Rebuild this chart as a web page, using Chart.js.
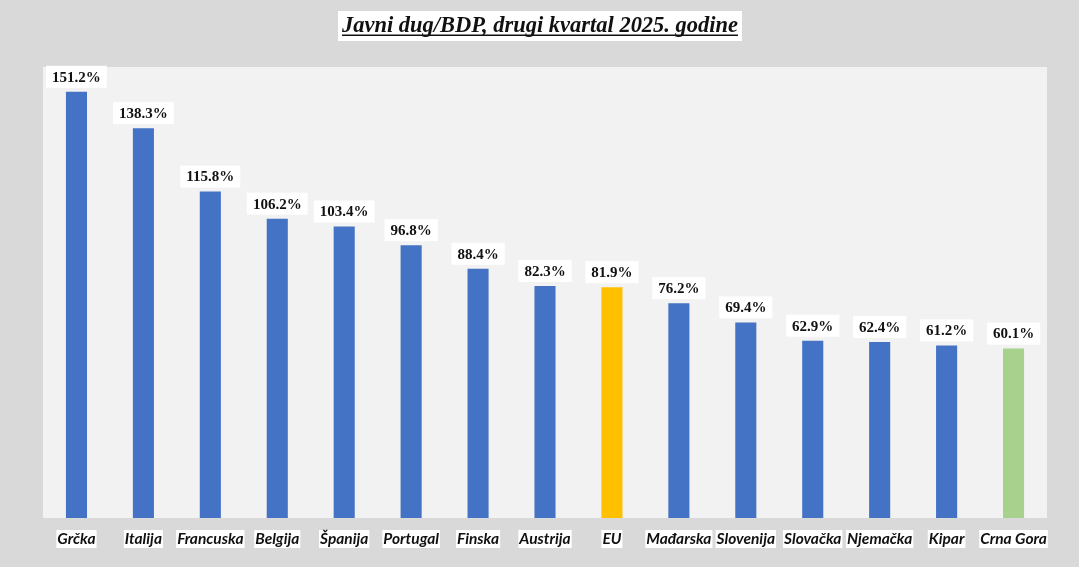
<!DOCTYPE html>
<html>
<head>
<meta charset="utf-8">
<script src="https://cdn.jsdelivr.net/npm/chart.js@4/dist/chart.umd.min.js"></script>
<style>
  html, body { margin: 0; padding: 0; background: #d9d9d9; }
  #chart { display: block; }
</style>
</head>
<body>
<canvas id="chart" width="1079" height="567"></canvas>
<script>
const titleText = 'Javni dug/BDP, drugi kvartal 2025. godine';
const categories = ['Grčka', 'Italija', 'Francuska', 'Belgija', 'Španija', 'Portugal', 'Finska', 'Austrija', 'EU', 'Mađarska', 'Slovenija', 'Slovačka', 'Njemačka', 'Kipar', 'Crna Gora'];
const debtToGdp = [151.2, 138.3, 115.8, 106.2, 103.4, 96.8, 88.4, 82.3, 81.9, 76.2, 69.4, 62.9, 62.4, 61.2, 60.1];

const barColors = categories.map(c => c === 'EU' ? '#ffc000' : (c === 'Crna Gora' ? '#a9d18e' : '#4472c4'));

const decor = {
  id: 'decor',
  beforeDraw(chart) {
    const { ctx, chartArea: a } = chart;
    ctx.save();
    ctx.fillStyle = '#d9d9d9';
    ctx.fillRect(0, 0, chart.width, chart.height);
    ctx.fillStyle = '#f2f2f2';
    ctx.fillRect(a.left, a.top, a.right - a.left, a.bottom - a.top);
    ctx.restore();
  },
  afterDatasetsDraw(chart) {
    const { ctx } = chart;
    const meta = chart.getDatasetMeta(0);
    ctx.save();
    ctx.font = 'bold 15px "Liberation Serif"';
    ctx.textAlign = 'center';
    ctx.textBaseline = 'middle';
    meta.data.forEach((bar, i) => {
      const txt = debtToGdp[i].toFixed(1) + '%';
      const w = ctx.measureText(txt).width + 12;
      const cy = bar.y - 15;
      ctx.fillStyle = '#ffffff';
      ctx.fillRect(bar.x - w / 2, cy - 11, w, 22);
      ctx.fillStyle = '#111111';
      ctx.fillText(txt, bar.x, cy + 1);
    });
    ctx.restore();
  },
  afterDraw(chart) {
    const { ctx } = chart;
    const xs = chart.scales.x;
    ctx.save();
    // category labels
    ctx.font = 'italic bold 15.5px Lato';
    ctx.textAlign = 'center';
    ctx.textBaseline = 'middle';
    categories.forEach((c, i) => {
      const x = xs.getPixelForValue(i);
      const w = ctx.measureText(c).width + 2;
      ctx.fillStyle = '#ffffff';
      ctx.fillRect(x - w / 2, 530, w, 18);
      ctx.fillStyle = '#111111';
      ctx.fillText(c, x, 539);
    });
    // title, sized to the reference width
    let size = 22;
    ctx.font = `italic bold ${size}px "Liberation Serif"`;
    size = size * 396 / ctx.measureText(titleText).width;
    ctx.font = `italic bold ${size}px "Liberation Serif"`;
    const tw = ctx.measureText(titleText).width;
    const cx = 540;
    ctx.fillStyle = '#ffffff';
    ctx.fillRect(cx - tw / 2 - 4, 11, tw + 8, 30);
    ctx.fillStyle = '#111111';
    ctx.textBaseline = 'alphabetic';
    ctx.fillText(titleText, cx, 32);
    ctx.fillRect(cx - tw / 2, 34.5, tw, 1.5);
    ctx.restore();
  }
};

new Chart(document.getElementById('chart'), {
  type: 'bar',
  data: {
    labels: categories,
    datasets: [{
      data: debtToGdp,
      backgroundColor: barColors,
      borderWidth: 0,
      barPercentage: 0.63,
      categoryPercentage: 0.5
    }]
  },
  options: {
    responsive: false,
    animation: false,
    devicePixelRatio: 1,
    layout: { padding: { left: 43, right: 32, top: 67, bottom: 49 } },
    plugins: { legend: { display: false }, title: { display: false }, tooltip: { enabled: false } },
    scales: {
      x: { display: false },
      y: { display: false, min: 0, max: 160 }
    }
  },
  plugins: [decor]
});
</script>
</body>
</html>
